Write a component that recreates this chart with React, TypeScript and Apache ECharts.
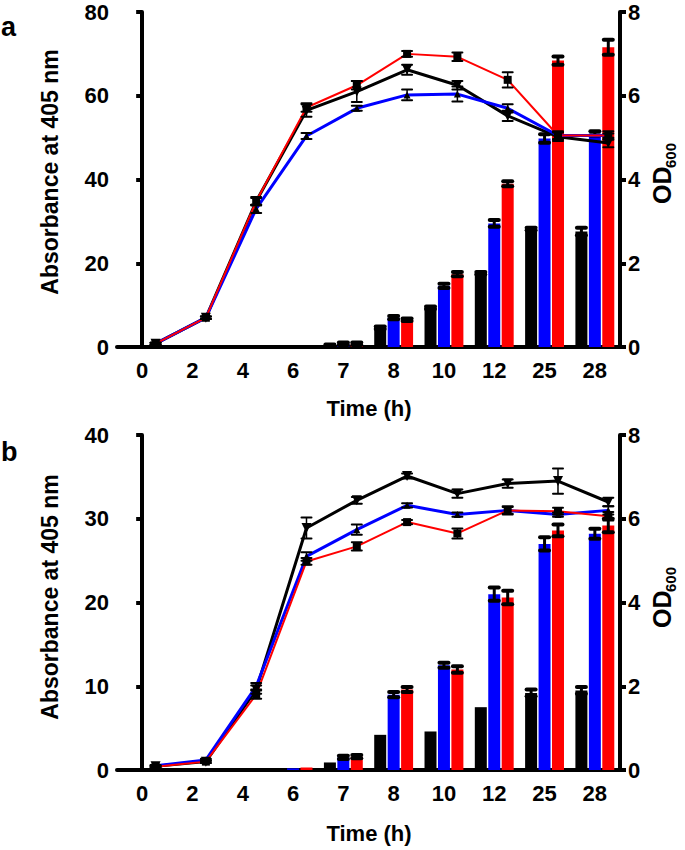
import React, { useEffect, useRef } from 'react';
import * as echarts from 'echarts';

// ---------- data ----------
const categories = ['0', '2', '4', '6', '7', '8', '10', '12', '25', '28'];

// Panel a — bars: Absorbance at 405 nm (left axis, 0-80)
const barsA_black = [0, 0, 0, 0.1, 0.4, 4.6, 9.4, 17.6, 28.2, 27.6];
const barsA_blackErr = [0, 0, 0, 0, 0.2, 0.3, 0.3, 0.3, 0.3, 0.9];
const barsA_blue = [0, 0, 0, 0, 0.8, 7.0, 14.6, 29.5, 49.8, 51.0];
const barsA_blueErr = [0, 0, 0, 0, 0.3, 0.4, 0.5, 0.8, 1.0, 0.5];
const barsA_red = [0, 0, 0, 0, 0.8, 6.5, 17.4, 39.0, 68.4, 71.6];
const barsA_redErr = [0, 0, 0, 0, 0.3, 0.3, 0.5, 0.6, 1.0, 1.8];

// Panel a — lines: OD600 (right axis, 0-8)
const odA_black = [0.08, 0.7, 3.48, 5.65, 6.1, 6.62, 6.25, 5.52, 5.02, 4.87];
const odA_blackErr = [0.02, 0.03, 0.1, 0.15, 0.25, 0.12, 0.1, 0.12, 0.1, 0.1];
const odA_blue = [0.08, 0.7, 3.3, 5.04, 5.7, 6.02, 6.04, 5.7, 5.05, 5.05];
const odA_blueErr = [0.02, 0.03, 0.1, 0.07, 0.06, 0.13, 0.18, 0.1, 0.08, 0.05];
const odA_red = [0.08, 0.7, 3.48, 5.72, 6.25, 7.0, 6.93, 6.38, 5.05, 5.05];
const odA_redErr = [0.02, 0.03, 0.08, 0.1, 0.1, 0.07, 0.1, 0.18, 0.1, 0.1];

// Panel b — bars: Absorbance at 405 nm (left axis, 0-40)
const barsB_black = [0, 0, 0.05, 0.2, 0.9, 4.2, 4.6, 7.5, 9.2, 9.5];
const barsB_blackErr = [0, 0, 0, 0, 0, 0, 0, 0, 0.4, 0.4];
const barsB_blue = [0, 0, 0, 0.2, 1.5, 9.0, 12.5, 21.0, 27.0, 28.2];
const barsB_blueErr = [0, 0, 0, 0, 0.2, 0.3, 0.3, 0.8, 0.8, 0.6];
const barsB_red = [0, 0, 0, 0.3, 1.6, 9.6, 12.0, 20.6, 28.6, 29.2];
const barsB_redErr = [0, 0, 0, 0, 0.2, 0.3, 0.4, 0.8, 0.7, 0.8];

// Panel b — lines: OD600 (right axis, 0-8)
const odB_black = [0.09, 0.2, 1.92, 5.78, 6.44, 7.02, 6.6, 6.84, 6.9, 6.4];
const odB_blackErr = [0.02, 0.03, 0.1, 0.25, 0.08, 0.06, 0.1, 0.1, 0.3, 0.1];
const odB_blue = [0.1, 0.24, 2.0, 5.1, 5.74, 6.32, 6.1, 6.2, 6.1, 6.2];
const odB_blueErr = [0.02, 0.03, 0.08, 0.1, 0.12, 0.05, 0.05, 0.08, 0.05, 0.1];
const odB_red = [0.08, 0.2, 1.8, 4.98, 5.34, 5.92, 5.65, 6.2, 6.18, 6.06];
const odB_redErr = [0.02, 0.03, 0.1, 0.08, 0.1, 0.05, 0.12, 0.1, 0.08, 0.1];

// axis ranges
const leftMaxA = 80;
const leftIntA = 20;
const leftMaxB = 40;
const leftIntB = 10;
const rightMax = 8;
const rightInt = 2;

// ---------- layout ----------
const W = 685;
const H = 850;
const GRID_LEFT = 117;
const GRID_W = 503;
const GRID_H = 335;
const TOP_A = 12;
const TOP_B = 435;
const BAR_W = 12;
const BAR_GAP = 0.12;
const FONT = '"Liberation Sans", Arial, Helvetica, sans-serif';

const catW = GRID_W / categories.length;
const OFF = (BAR_W * (1 + BAR_GAP)) / catW;

function errorSeries(xi: number, yi: number, offset: number, means: number[], errs: number[], cap: number, lw: number, z: number) {
  const data = means.map((m, i) => [i + offset, m - errs[i], m + errs[i]]);
  return {
    type: 'custom',
    xAxisIndex: xi,
    yAxisIndex: yi,
    z,
    silent: true,
    encode: { x: 0, y: [1, 2] },
    renderItem: (params: any, api: any) => {
      const x = api.value(0);
      const lo = api.value(1);
      const hi = api.value(2);
      if (hi - lo <= 0) return null;
      const p1 = api.coord([x, lo]);
      const p2 = api.coord([x, hi]);
      const st = { stroke: '#000', lineWidth: lw, lineCap: 'round' };
      return {
        type: 'group',
        children: [
          { type: 'line', shape: { x1: p1[0], y1: p1[1], x2: p2[0], y2: p2[1] }, style: { stroke: '#000', lineWidth: Math.max(1.5, lw - 1) } },
          { type: 'line', shape: { x1: p1[0] - cap, y1: p1[1], x2: p1[0] + cap, y2: p1[1] }, style: st },
          { type: 'line', shape: { x1: p2[0] - cap, y1: p2[1], x2: p2[0] + cap, y2: p2[1] }, style: st },
        ],
      };
    },
    data,
  };
}

function barSeries(xi: number, yi: number, data: number[], color: string) {
  return {
    type: 'bar',
    xAxisIndex: xi,
    yAxisIndex: yi,
    data,
    barWidth: BAR_W,
    barGap: `${BAR_GAP * 100}%`,
    itemStyle: { color },
    z: 2,
  };
}

function lineSeries(xi: number, yi: number, data: number[], color: string, width: number, symbol: string, size: number, rotate: number) {
  return {
    type: 'line',
    xAxisIndex: xi,
    yAxisIndex: yi,
    data: data.map((v, i) => [i + OFF, v]),
    symbol,
    symbolSize: size,
    symbolRotate: rotate,
    showSymbol: true,
    lineStyle: { color, width },
    itemStyle: { color: '#000' },
    z: 4,
  };
}

function catAxis(gridIndex: number) {
  return {
    type: 'category',
    gridIndex,
    data: categories,
    boundaryGap: true,
    axisLine: { lineStyle: { color: '#000', width: 4 } },
    axisTick: { alignWithLabel: true, length: 7, lineStyle: { color: '#000', width: 3.5 } },
    axisLabel: { color: '#000', fontFamily: FONT, fontWeight: 'bold', fontSize: 22, margin: 12 },
    splitLine: { show: false },
  };
}

function hiddenValAxis(gridIndex: number) {
  return { type: 'value', gridIndex, min: -0.5, max: categories.length - 0.5, show: false };
}

function yAxis(gridIndex: number, max: number, interval: number, position: 'left' | 'right') {
  return {
    type: 'value',
    gridIndex,
    position,
    min: 0,
    max,
    interval,
    axisLine: { show: true, lineStyle: { color: '#000', width: 4 } },
    axisTick: { show: true, length: 6, lineStyle: { color: '#000', width: 4 } },
    axisLabel: { color: '#000', fontFamily: FONT, fontWeight: 'bold', fontSize: 22, margin: 8 },
    splitLine: { show: false },
  };
}

function textEl(text: string, x: number, y: number, size: number, rotation = 0, align = 'center') {
  return {
    type: 'text',
    x,
    y,
    rotation,
    style: { text, font: `bold ${size}px ${FONT}`, fill: '#000', textAlign: align, textVerticalAlign: 'middle' },
  };
}

function odLabel(cx: number, cy: number) {
  return {
    type: 'group',
    x: cx,
    y: cy,
    rotation: Math.PI / 2,
    children: [
      { type: 'text', x: -30, y: 0, style: { text: 'OD', font: `bold 25px ${FONT}`, fill: '#000', textAlign: 'left', textVerticalAlign: 'middle' } },
      { type: 'text', x: 6, y: 8, style: { text: '600', font: `bold 15px ${FONT}`, fill: '#000', textAlign: 'left', textVerticalAlign: 'middle' } },
    ],
  };
}

export default function App() {
  const ref = useRef<HTMLDivElement>(null);
  useEffect(() => {
    if (!ref.current) return;
    const chart = echarts.init(ref.current, null, { renderer: 'svg', width: W, height: H });
    const option: any = {
      animation: false,
      backgroundColor: '#fff',
      grid: [
        { left: GRID_LEFT, top: TOP_A, width: GRID_W, height: GRID_H },
        { left: GRID_LEFT, top: TOP_B, width: GRID_W, height: GRID_H },
      ],
      xAxis: [catAxis(0), hiddenValAxis(0), catAxis(1), hiddenValAxis(1)],
      yAxis: [
        yAxis(0, leftMaxA, leftIntA, 'left'),
        yAxis(0, rightMax, rightInt, 'right'),
        yAxis(1, leftMaxB, leftIntB, 'left'),
        yAxis(1, rightMax, rightInt, 'right'),
      ],
      series: [
        // panel a bars
        barSeries(0, 0, barsA_black, '#000000'),
        barSeries(0, 0, barsA_blue, '#0000ff'),
        barSeries(0, 0, barsA_red, '#ff0000'),
        errorSeries(1, 0, -OFF, barsA_black, barsA_blackErr, 4.5, 4, 3),
        errorSeries(1, 0, 0, barsA_blue, barsA_blueErr, 4.5, 4, 3),
        errorSeries(1, 0, OFF, barsA_red, barsA_redErr, 4.5, 4, 3),
        // panel a lines
        lineSeries(1, 1, odA_black, '#000000', 3, 'triangle', 10, 180),
        lineSeries(1, 1, odA_blue, '#0000ff', 3, 'triangle', 7, 0),
        lineSeries(1, 1, odA_red, '#ff0000', 2, 'rect', 8, 0),
        errorSeries(1, 1, OFF, odA_black, odA_blackErr, 5, 2, 5),
        errorSeries(1, 1, OFF, odA_blue, odA_blueErr, 5, 2, 5),
        errorSeries(1, 1, OFF, odA_red, odA_redErr, 5, 2, 5),
        // panel b bars
        barSeries(2, 2, barsB_black, '#000000'),
        barSeries(2, 2, barsB_blue, '#0000ff'),
        barSeries(2, 2, barsB_red, '#ff0000'),
        errorSeries(3, 2, -OFF, barsB_black, barsB_blackErr, 4.5, 4, 3),
        errorSeries(3, 2, 0, barsB_blue, barsB_blueErr, 4.5, 4, 3),
        errorSeries(3, 2, OFF, barsB_red, barsB_redErr, 4.5, 4, 3),
        // panel b lines
        lineSeries(3, 3, odB_black, '#000000', 3, 'triangle', 10, 180),
        lineSeries(3, 3, odB_blue, '#0000ff', 3, 'triangle', 7, 0),
        lineSeries(3, 3, odB_red, '#ff0000', 2, 'rect', 8, 0),
        errorSeries(3, 3, OFF, odB_black, odB_blackErr, 5, 2, 5),
        errorSeries(3, 3, OFF, odB_blue, odB_blueErr, 5, 2, 5),
        errorSeries(3, 3, OFF, odB_red, odB_redErr, 5, 2, 5),
      ],
      graphic: [
        textEl('a', 1, 27, 27, 0, 'left'),
        textEl('b', 1, 452, 27, 0, 'left'),
        textEl('Absorbance at 405 nm', 50, 172, 23, Math.PI / 2),
        textEl('Absorbance at 405 nm', 50, 597, 23, Math.PI / 2),
        textEl('Time (h)', 369, 408, 22),
        textEl('Time (h)', 369, 833, 22),
        odLabel(662, 174),
        odLabel(662, 598),
      ],
    };
    chart.setOption(option);
    return () => chart.dispose();
  }, []);
  return (
    <div
      ref={ref}
      style={{ position: 'absolute', left: 0, top: 0, width: W, height: H, background: '#fff' }}
    />
  );
}
